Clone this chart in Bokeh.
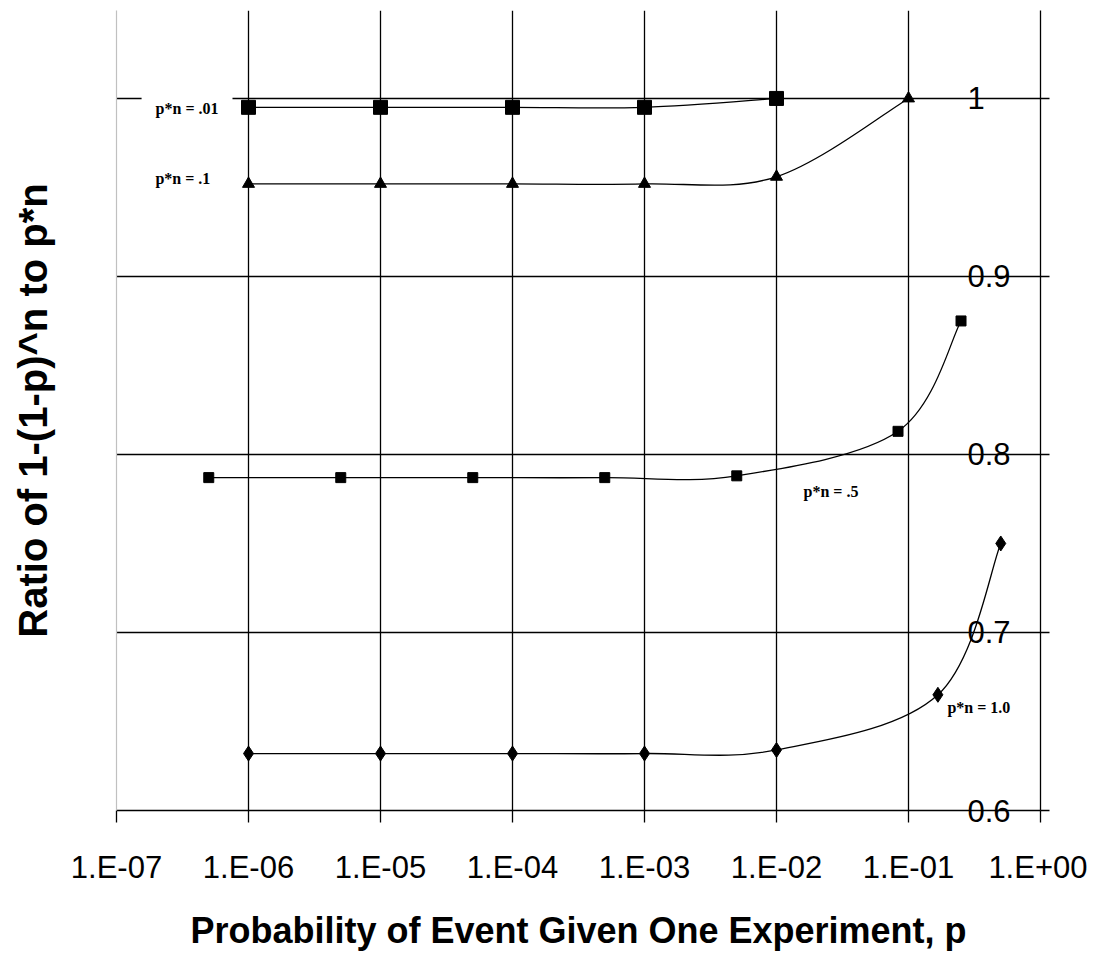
import numpy as np
from bokeh.plotting import figure
from bokeh.models import (LinearAxis, FixedTicker, Range1d, Label)
from bokeh.embed import file_html
from bokeh.resources import INLINE

# ---------------- data ----------------
x_ticks = [1e-7, 1e-6, 1e-5, 1e-4, 1e-3, 1e-2, 1e-1, 1e0]
x_tick_labels = ["1.E-07", "1.E-06", "1.E-05", "1.E-04", "1.E-03", "1.E-02", "1.E-01", "1.E+00"]
y_ticks = [0.6, 0.7, 0.8, 0.9, 1.0]
y_tick_labels = ["0.6", "0.7", "0.8", "0.9", "1"]

p_01 = [1e-6, 1e-5, 1e-4, 1e-3, 1e-2]
r_01 = [0.995, 0.995, 0.995, 0.995, 1.0]
p_1 = [1e-6, 1e-5, 1e-4, 1e-3, 1e-2, 1e-1]
r_1 = [0.952, 0.952, 0.952, 0.952, 0.956, 1.0]
p_5 = [5e-7, 5e-6, 5e-5, 5e-4, 5e-3, 0.0833, 0.25]
r_5 = [0.787, 0.787, 0.787, 0.787, 0.788, 0.813, 0.875]
p_10 = [1e-6, 1e-5, 1e-4, 1e-3, 1e-2, 0.167, 0.5]
r_10 = [0.632, 0.632, 0.632, 0.632, 0.634, 0.665, 0.75]
series_names = ["p*n = .01", "p*n = .1", "p*n = .5", "p*n = 1.0"]

x_title = "Probability of Event Given One Experiment, p"
y_title = "Ratio of 1-(1-p)^n to p*n"

# ---------------- figure ----------------
p = figure(x_axis_type="log", x_range=Range1d(1e-7, 1.0), y_range=Range1d(0.6, 1.0494),
           frame_width=924, frame_height=800,
           min_border_left=116, min_border_top=10, min_border_right=47, min_border_bottom=130,
           output_backend="svg", toolbar_location=None)
p.outline_line_color = None
p.background_fill_color = "white"
p.border_fill_color = "white"

# bottom (x) axis
xa = p.xaxis[0]
xa.ticker = FixedTicker(ticks=x_ticks)
xa.major_label_overrides = dict(zip(x_ticks, x_tick_labels))
xa.major_tick_out = 12
xa.major_tick_in = 0
xa.minor_tick_line_color = None
xa.axis_line_color = "black"
xa.axis_line_width = 1.3
xa.major_tick_line_color = "black"
xa.major_tick_line_width = 1.3
xa.major_label_text_font = "Liberation Sans"
xa.major_label_text_font_size = "31px"
xa.major_label_text_color = "black"
xa.major_label_standoff = 27
xa.axis_label = x_title
xa.axis_label_text_font = "Liberation Sans"
xa.axis_label_text_font_style = "bold"
xa.axis_label_text_font_size = "36px"
xa.axis_label_text_color = "black"
xa.axis_label_standoff = 22

# left axis: grey spine plus the y title
ya = p.yaxis[0]
ya.ticker = FixedTicker(ticks=[])
ya.axis_line_color = "#c0c0c0"
ya.axis_line_width = 1.2
ya.major_tick_line_color = None
ya.minor_tick_line_color = None
ya.major_label_text_font_size = "0px"
ya.axis_label = y_title
ya.axis_label_text_font = "Liberation Sans"
ya.axis_label_text_font_style = "bold"
ya.axis_label_text_font_size = "40px"
ya.axis_label_text_color = "black"
ya.axis_label_standoff = 62

# right axis with labels drawn inside
ra = LinearAxis(ticker=FixedTicker(ticks=y_ticks))
ra.major_label_overrides = dict(zip(y_ticks, y_tick_labels))
ra.major_tick_out = 9
ra.major_tick_in = 0
ra.minor_tick_line_color = None
ra.axis_line_color = "black"
ra.axis_line_width = 1.3
ra.major_tick_line_width = 1.3
ra.major_label_text_font = "Liberation Sans"
ra.major_label_text_font_size = "31px"
ra.major_label_text_color = "black"
ra.major_label_standoff = -82
p.add_layout(ra, "right")

# grids
p.xgrid.ticker = FixedTicker(ticks=x_ticks[1:])
p.ygrid.ticker = FixedTicker(ticks=y_ticks)
for g in (p.xgrid, p.ygrid):
    g.grid_line_color = "black"
    g.grid_line_width = 1.3
    g.grid_line_alpha = 1.0


def smooth(xs, ys):
    lx = np.log10(np.asarray(xs, dtype=float))
    y = np.asarray(ys, dtype=float)
    n = len(lx)
    out = {k: [] for k in ("x0", "y0", "x1", "y1", "cx0", "cy0", "cx1", "cy1")}
    for i in range(n - 1):
        a = max(i - 1, 0)
        b = min(i + 2, n - 1)
        out["x0"].append(10 ** lx[i]); out["y0"].append(y[i])
        out["x1"].append(10 ** lx[i + 1]); out["y1"].append(y[i + 1])
        out["cx0"].append(10 ** (lx[i] + (lx[i + 1] - lx[a]) / 6.0))
        out["cy0"].append(y[i] + (y[i + 1] - y[a]) / 6.0)
        out["cx1"].append(10 ** (lx[i + 1] - (lx[b] - lx[i]) / 6.0))
        out["cy1"].append(y[i + 1] - (y[b] - y[i]) / 6.0)
    return out


series = [
    (p_01, r_01, "square", 14),
    (p_1, r_1, "triangle", 12),
    (p_5, r_5, "square", 10),
    (p_10, r_10, "diamond", 15),
]
for xs, ys, mk, sz in series:
    p.bezier(line_color="black", line_width=1.3, **smooth(xs, ys))
    p.scatter(xs, ys, marker=mk, size=sz, fill_color="black", line_color="black")

# series labels
label_pos = [(10 ** -6.81, 0.9944, 14), (10 ** -6.705, 0.955, 0),
             (10 ** -1.795, 0.7792, 0), (10 ** -0.705, 0.6579, 0)]
for name, (lx, ly, pad) in zip(series_names, label_pos):
    kw = {}
    if pad:
        kw = dict(background_fill_color="white", padding=pad)
    p.add_layout(Label(x=lx, y=ly, text=name, text_font="Liberation Serif",
                       text_font_style="bold", text_font_size="16px", text_color="black",
                       text_baseline="middle", text_align="left", **kw))

open("out.html", "w").write(file_html(p, INLINE))
